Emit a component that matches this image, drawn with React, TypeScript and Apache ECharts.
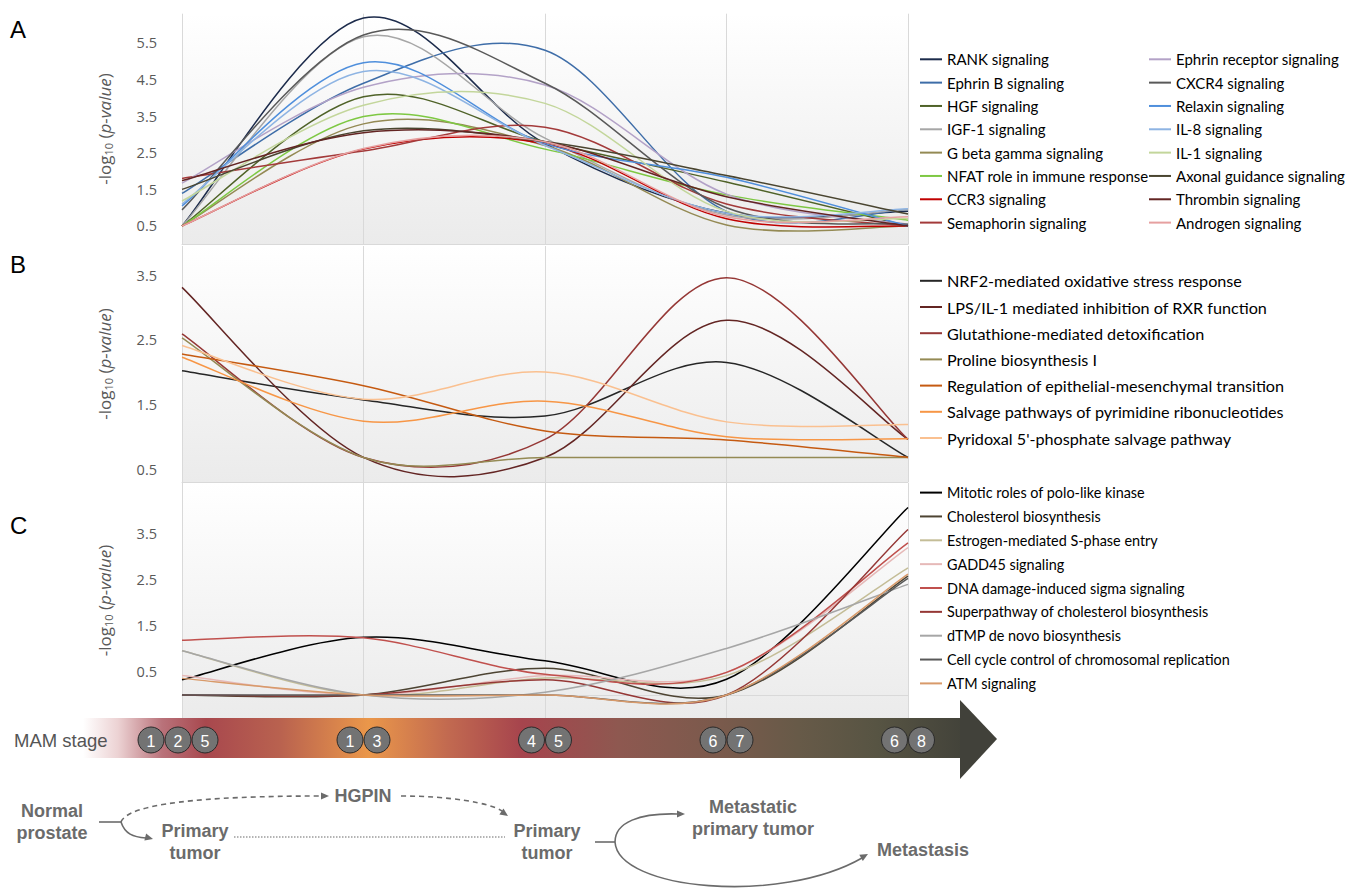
import React, { useEffect, useRef } from 'react';
import * as echarts from 'echarts';

// ---------- DATA ----------
const stages = ['1, 2, 5', '1, 3', '4, 5', '6, 7', '6, 8'];
const mamStages = [[1, 2, 5], [1, 3], [4, 5], [6, 7], [6, 8]];

// Panel A
const namesA = [
  'RANK signaling', 'Ephrin B signaling', 'HGF signaling', 'IGF-1 signaling',
  'G beta gamma signaling', 'NFAT role in immune response', 'CCR3 signaling', 'Semaphorin signaling',
  'Ephrin receptor signaling', 'CXCR4 signaling', 'Relaxin signaling', 'IL-8 signaling',
  'IL-1 signaling', 'Axonal guidance signaling', 'Thrombin signaling', 'Androgen signaling',
];
const valuesA: number[][] = [
  [0.5, 6.18, 2.75, 0.85, 0.9],
  [1.39, 4.4, 5.3, 0.9, 0.95],
  [0.5, 4.03, 2.8, 1.7, 0.5],
  [0.5, 5.67, 2.9, 0.8, 0.95],
  [0.5, 3.29, 2.7, 0.53, 0.5],
  [0.5, 3.49, 2.6, 1.35, 0.66],
  [0.5, 2.6, 2.75, 0.7, 0.5],
  [1.8, 2.55, 3.2, 1.1, 0.5],
  [1.67, 4.29, 4.35, 1.37, 0.55],
  [0.94, 5.72, 4.4, 1.0, 0.55],
  [1.05, 4.96, 2.75, 1.83, 0.5],
  [1.1, 4.72, 2.7, 0.85, 0.97],
  [1.18, 3.8, 3.85, 0.9, 0.7],
  [1.5, 3.1, 2.8, 1.88, 0.83],
  [1.74, 3.05, 2.8, 1.3, 0.5],
  [0.5, 2.62, 2.8, 0.75, 0.75],
];
const colorsA = [
  '#1c2b4b', '#3e6da8', '#4f6228', '#a6a6a6', '#948a54', '#7ec843', '#c00000', '#a33a3a',
  '#b3a2c7', '#595959', '#4f8fdc', '#8eb4e3', '#c3d69b', '#4a4530', '#632523', '#e6a0a0',
];

// Panel B
const namesB = [
  'NRF2-mediated oxidative stress response', 'LPS/IL-1 mediated inhibition of RXR function',
  'Glutathione-mediated detoxification', 'Proline biosynthesis I',
  'Regulation of epithelial-mesenchymal transition', 'Salvage pathways of pyrimidine ribonucleotides',
  "Pyridoxal 5'-phosphate salvage pathway",
];
const valuesB: number[][] = [
  [2.02, 1.57, 1.32, 2.15, 0.68],
  [3.31, 0.68, 0.68, 2.8, 0.96],
  [2.59, 0.68, 0.96, 3.46, 0.96],
  [2.53, 0.68, 0.68, 0.68, 0.68],
  [2.28, 1.79, 1.09, 0.95, 0.68],
  [2.23, 1.24, 1.55, 1.0, 0.97],
  [2.41, 1.58, 2.0, 1.23, 1.19],
];
const colorsB = ['#262626', '#632523', '#953735', '#948a54', '#c55a11', '#f79646', '#fac090'];

// Panel C
const namesC = [
  'Mitotic roles of polo-like kinase', 'Cholesterol biosynthesis', 'Estrogen-mediated S-phase entry',
  'GADD45 signaling', 'DNA damage-induced sigma signaling', 'Superpathway of cholesterol biosynthesis',
  'dTMP de novo biosynthesis', 'Cell cycle control of chromosomal replication', 'ATM signaling',
];
const valuesC: number[][] = [
  [0.33, 1.25, 0.74, 0.34, 4.07],
  [0.0, 0.0, 0.58, 0.0, 2.58],
  [0.96, 0.0, 0.37, 0.42, 2.76],
  [0.42, 0.0, 0.42, 0.49, 3.2],
  [1.19, 1.24, 0.45, 0.49, 3.3],
  [0.0, 0.0, 0.33, 0.0, 3.59],
  [0.96, 0.0, 0.06, 1.01, 2.4],
  [0.0, 0.0, 0.0, 0.0, 2.53],
  [0.36, 0.0, 0.0, 0.0, 2.62],
];
const colorsC = ['#000000', '#4d4433', '#c4bd97', '#e6b9b8', '#c0504d', '#953735', '#a6a6a6', '#595959', '#d89a6a'];

// ---------- STYLE CONSTANTS ----------
const FONT_UI = "'Open Sans', 'DejaVu Sans', sans-serif";
const FONT_LEG = "Lato, 'Open Sans', sans-serif";
const FONT_FLOW = "'Liberation Sans', Arial, sans-serif";
const GRID_LEFT = 182;
const GRID_W = 726;
const FLOW = '#6b6b6b';

function yAxisFor(gridIndex: number, min: number, max: number, labelMax: number) {
  return {
    type: 'value', gridIndex, min, max, interval: 0.1,
    axisLine: { show: false }, axisTick: { show: false }, splitLine: { show: false },
    axisLabel: {
      margin: 25, color: '#595959', fontSize: 14.5, fontFamily: FONT_UI,
      formatter: (v: number) => {
        const r = Math.round(v * 10);
        return r % 10 === 5 && r / 10 <= labelMax ? (r / 10).toFixed(1) : '';
      },
    },
    name: '-log{sub|10} ({it|p-value})',
    nameLocation: 'middle', nameRotate: 90, nameGap: 68,
    nameTextStyle: {
      color: '#595959', fontSize: 17, fontFamily: FONT_UI,
      rich: {
        sub: { fontSize: 11, color: '#595959', fontFamily: FONT_UI, padding: [8, 0, 0, 0] },
        it: { fontStyle: 'italic', fontSize: 17, color: '#595959', fontFamily: FONT_UI },
      },
    },
  };
}

function xAxisFor(gridIndex: number) {
  return {
    type: 'category', gridIndex, data: stages, boundaryGap: false,
    axisLabel: { show: false }, axisTick: { show: false },
    axisLine: { show: true, lineStyle: { color: '#d9d9d9' } },
    splitLine: { show: true, lineStyle: { color: '#d9d9d9', width: 1 } },
  };
}

function gridBg() {
  return new echarts.graphic.LinearGradient(0, 0, 0, 1, [
    { offset: 0, color: '#ffffff' },
    { offset: 1, color: '#ebebeb' },
  ]);
}

// Catmull-Rom style smooth curve (like a spreadsheet "smoothed line"), drawn through the axis scales
function smoothRenderer(color: string) {
  return (params: any, api: any) => {
    if (params.dataIndexInside !== 0) return null;
    const n = params.dataInsideLength;
    const pts: number[][] = [];
    for (let k = 0; k < n; k++) pts.push(api.coord([api.value(0, k), api.value(1, k)]));
    let d = `M${pts[0][0]},${pts[0][1]}`;
    for (let k = 0; k < n - 1; k++) {
      const p0 = pts[Math.max(k - 1, 0)], p1 = pts[k], p2 = pts[k + 1], p3 = pts[Math.min(k + 2, n - 1)];
      const c1x = p1[0] + (p2[0] - p0[0]) / 6, c1y = p1[1] + (p2[1] - p0[1]) / 6;
      const c2x = p2[0] - (p3[0] - p1[0]) / 6, c2y = p2[1] - (p3[1] - p1[1]) / 6;
      d += ` C${c1x},${c1y} ${c2x},${c2y} ${p2[0]},${p2[1]}`;
    }
    return {
      type: 'path', silent: true,
      shape: { pathData: d },
      style: { stroke: color, fill: 'none', lineWidth: 1.5 },
    };
  };
}

function seriesFor(names: string[], values: number[][], colors: string[], idx: number) {
  return names.map((n, i) => ({
    name: n, type: 'custom', xAxisIndex: idx, yAxisIndex: idx,
    data: values[i].map((v, k) => [k, v]),
    encode: { x: 0, y: 1 },
    color: colors[i], itemStyle: { color: colors[i] },
    renderItem: smoothRenderer(colors[i]),
  }));
}

function legendFor(names: string[], left: number, top: number, fontSize: number, gap: number) {
  return {
    data: names, orient: 'vertical', left, top, padding: 0,
    icon: 'rect', itemWidth: 22, itemHeight: 2, itemGap: gap, selectedMode: false,
    textStyle: { color: '#000', fontSize, fontFamily: FONT_LEG, lineHeight: 16 },
  };
}

function arrowHead(tipX: number, tipY: number, dx: number, dy: number) {
  const len = Math.hypot(dx, dy);
  const ux = dx / len, uy = dy / len;
  const px = -uy, py = ux;
  const L = 8, W = 3.6;
  const bx = tipX - ux * L, by = tipY - uy * L;
  return {
    type: 'polygon', silent: true,
    shape: { points: [[tipX, tipY], [bx + px * W, by + py * W], [bx - px * W, by - py * W]] },
    style: { fill: FLOW },
  };
}

function buildGraphics() {
  const els: any[] = [];
  // panel letters
  [['A', 29], ['B', 264], ['C', 525]].forEach(([t, y]) => {
    els.push({ type: 'text', x: 10, y: y as number, style: { text: t as string, fontSize: 24, fontFamily: FONT_FLOW, fill: '#000', textVerticalAlign: 'middle' } });
  });
  // stage band
  els.push({
    type: 'rect', shape: { x: 83, y: 718, width: 878, height: 40 },
    style: {
      fill: new echarts.graphic.LinearGradient(0, 0, 1, 0, [
        { offset: 0, color: 'rgba(255,255,255,1)' },
        { offset: 0.04, color: '#ecd2d3' },
        { offset: 0.09, color: '#b9727a' },
        { offset: 0.14, color: '#a8484e' },
        { offset: 0.225, color: '#b9624f' },
        { offset: 0.325, color: '#ea974a' },
        { offset: 0.415, color: '#c26a50' },
        { offset: 0.5, color: '#a6444d' },
        { offset: 0.61, color: '#8e5850' },
        { offset: 0.725, color: '#7a5a4c' },
        { offset: 0.815, color: '#675a48' },
        { offset: 0.905, color: '#575443' },
        { offset: 1, color: '#43433a' },
      ]),
    },
  });
  els.push({ type: 'polygon', shape: { points: [[960, 700], [997, 739], [960, 779]] }, style: { fill: '#41413a' } });
  els.push({ type: 'text', x: 14, y: 740, style: { text: 'MAM stage', fontSize: 18.5, fontFamily: FONT_FLOW, fill: '#555', textVerticalAlign: 'middle' } });
  // stage circles
  const step = GRID_W / (stages.length - 1);
  mamStages.forEach((grp, i) => {
    const cx0 = GRID_LEFT + i * step - (i === 0 ? 4 : 0);
    grp.forEach((num, j) => {
      const cx = cx0 + (j - (grp.length - 1) / 2) * 27;
      els.push({ type: 'circle', shape: { cx, cy: 740, r: 13 }, style: { fill: '#737373', stroke: '#2a2a2a', lineWidth: 1 } });
      els.push({ type: 'text', x: cx, y: 741, style: { text: String(num), fontSize: 16, fontFamily: FONT_FLOW, fill: '#fff', textAlign: 'center', textVerticalAlign: 'middle' } });
    });
  });
  // flow diagram texts
  const flowText = (text: string, x: number, y: number) => ({
    type: 'text', x, y,
    style: { text, fontSize: 18, fontWeight: 'bold', fontFamily: FONT_FLOW, fill: FLOW, textAlign: 'center', textVerticalAlign: 'middle', lineHeight: 22 },
  });
  els.push(flowText('Normal\nprostate', 52, 822));
  els.push(flowText('HGPIN', 363, 796));
  els.push(flowText('Primary\ntumor', 195, 842));
  els.push(flowText('Primary\ntumor', 547, 842));
  els.push(flowText('Metastatic\nprimary tumor', 753, 818));
  els.push(flowText('Metastasis', 923, 850));
  // flow connectors
  const solid = { stroke: FLOW, lineWidth: 1.6, fill: 'none' };
  const dashed = { stroke: FLOW, lineWidth: 1.6, fill: 'none', lineDash: [5, 4] };
  els.push({ type: 'line', shape: { x1: 99, y1: 822, x2: 121, y2: 822 }, style: solid });
  els.push({ type: 'bezierCurve', shape: { x1: 121, y1: 822, cpx1: 128, cpy1: 804, cpx2: 200, cpy2: 796, x2: 321, y2: 796 }, style: dashed });
  els.push(arrowHead(329, 796, 1, 0));
  els.push({ type: 'bezierCurve', shape: { x1: 401, y1: 796, cpx1: 450, cpy1: 796, cpx2: 490, cpy2: 803, x2: 502, y2: 811 }, style: dashed });
  els.push(arrowHead(508, 816, 13, 9));
  els.push({ type: 'bezierCurve', shape: { x1: 121, y1: 822, cpx1: 125, cpy1: 834, cpx2: 133, cpy2: 837, x2: 146, y2: 838 }, style: solid });
  els.push(arrowHead(153, 839, 1, 0.25));
  els.push({ type: 'line', shape: { x1: 234, y1: 837, x2: 505, y2: 837 }, style: { stroke: FLOW, lineWidth: 1.2, lineDash: [1.5, 1.5] } });
  els.push({ type: 'line', shape: { x1: 595, y1: 842, x2: 615, y2: 842 }, style: solid });
  els.push({ type: 'bezierCurve', shape: { x1: 615, y1: 842, cpx1: 615, cpy1: 822, cpx2: 640, cpy2: 813, x2: 677, y2: 814 }, style: solid });
  els.push(arrowHead(685, 814, 1, 0));
  els.push({ type: 'bezierCurve', shape: { x1: 615, y1: 842, cpx1: 618, cpy1: 890, cpx2: 780, cpy2: 905, x2: 862, y2: 858 }, style: solid });
  els.push(arrowHead(868, 854, 82, -47));
  return els;
}

export default function App() {
  const ref = useRef<HTMLDivElement>(null);
  useEffect(() => {
    if (!ref.current) return;
    const chart = echarts.init(ref.current, undefined, { renderer: 'svg' });
    const option: any = {
      animation: false,
      backgroundColor: '#ffffff',
      grid: [
        { left: GRID_LEFT, width: GRID_W, top: 13.7, height: 230.6, show: true, backgroundColor: gridBg(), borderWidth: 0 },
        { left: GRID_LEFT, width: GRID_W, top: 246, height: 236, show: true, backgroundColor: gridBg(), borderWidth: 0 },
        { left: GRID_LEFT, width: GRID_W, top: 483, height: 235, show: true, backgroundColor: gridBg(), borderWidth: 0 },
      ],
      xAxis: [xAxisFor(0), xAxisFor(1), xAxisFor(2)],
      yAxis: [yAxisFor(0, 0, 6.3, 5.5), yAxisFor(1, 0.3, 3.95, 3.5), yAxisFor(2, -0.5, 4.6, 3.5)],
      legend: [
        legendFor(namesA.slice(0, 8), 920, 51.3, 15, 7.33),
        legendFor(namesA.slice(8), 1149, 51.3, 15, 7.33),
        legendFor(namesB, 920, 272.8, 16.2, 10.2),
        legendFor(namesC, 920, 484.6, 14.4, 7.85),
      ],
      series: [
        ...seriesFor(namesA, valuesA, colorsA, 0),
        ...seriesFor(namesB, valuesB, colorsB, 1),
        ...seriesFor(namesC, valuesC, colorsC, 2),
      ],
      graphic: { elements: buildGraphics() },
    };
    chart.setOption(option);
    return () => chart.dispose();
  }, []);
  return <div ref={ref} style={{ position: 'fixed', left: 0, top: 0, width: 1357, height: 888 }} />;
}
